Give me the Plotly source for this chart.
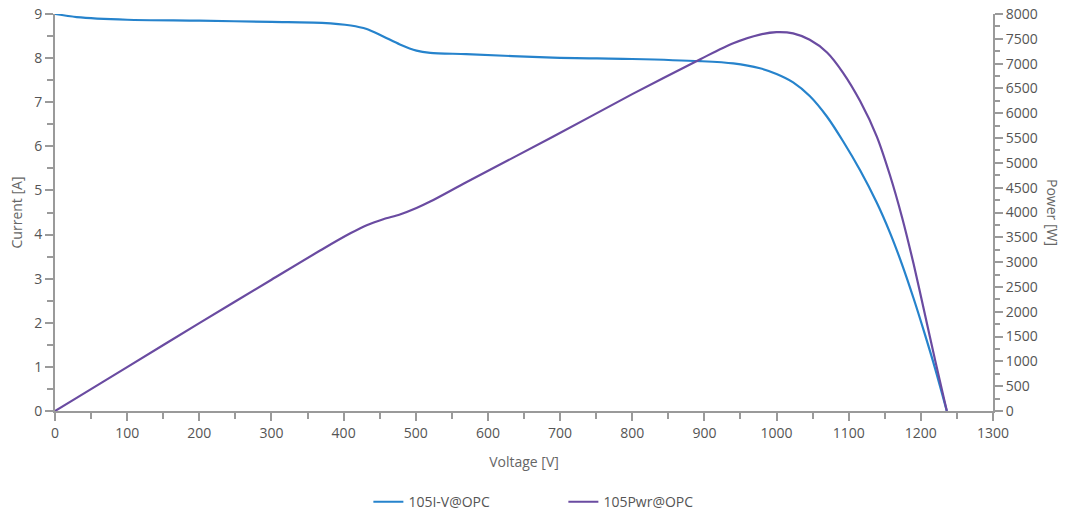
import plotly.graph_objects as go

voltage = [0, 30, 100, 200, 300, 370, 410, 432, 455, 478, 501, 520, 570, 690, 800,
           895, 940, 977, 1000, 1023, 1046, 1070, 1092, 1116, 1139, 1157, 1174, 1190, 1205, 1220, 1236]
current = [9.00, 8.93, 8.87, 8.85, 8.82, 8.80, 8.74, 8.66, 8.49, 8.31, 8.17, 8.12, 8.09, 8.01, 7.98,
           7.93, 7.88, 7.77, 7.64, 7.45, 7.14, 6.67, 6.12, 5.45, 4.72, 4.05, 3.32, 2.55, 1.77, 0.95, 0.0]
power = [0, 265, 885, 1770, 2645, 3255, 3585, 3745, 3865, 3960, 4090, 4220, 4610, 5525, 6385,
         7095, 7410, 7585, 7635, 7610, 7480, 7225, 6820, 6240, 5530, 4760, 3900, 2960, 1990, 1010, 0]

x_ticks = list(range(0, 1301, 100))
current_ticks = list(range(0, 10))
power_ticks = list(range(0, 8001, 500))

BLUE = "#2683cc"
PURPLE = "#6a4ba1"
AXIS = "#9a9a9a"
TXT = "#555555"

fig = go.Figure()
fig.add_trace(go.Scatter(x=voltage, y=current, name="105I-V@OPC", mode="lines",
                         line=dict(color=BLUE, width=2.2, shape="spline", smoothing=0.8)))
fig.add_trace(go.Scatter(x=voltage, y=power, name="105Pwr@OPC", mode="lines", yaxis="y2",
                         line=dict(color=PURPLE, width=2.2, shape="spline", smoothing=0.8)))

axis_common = dict(showline=True, linecolor=AXIS, linewidth=2, ticks="outside", tickcolor=AXIS,
                   ticklen=8, tickwidth=2, showgrid=False, zeroline=False, automargin=False,
                   tickfont=dict(size=14, color=TXT, family="Open Sans"))

fig.update_layout(
    width=1067, height=515,
    margin=dict(l=55, r=74, t=14, b=104),
    plot_bgcolor="white", paper_bgcolor="white",
    font=dict(family="Open Sans", color=TXT),
    xaxis=dict(range=[0, 1300], tickvals=x_ticks, **axis_common,
               minor=dict(dtick=50, ticks="outside", ticklen=6, tickcolor=AXIS, tickwidth=2),
               title=dict(text="Voltage [V]", font=dict(size=14, color="#666666"), standoff=16)),
    yaxis=dict(range=[0, 9], tickvals=current_ticks, **axis_common,
               minor=dict(dtick=0.5, ticks="outside", ticklen=6, tickcolor=AXIS, tickwidth=2),
               title=dict(text="Current [A]", font=dict(size=14, color="#666666"), standoff=8)),
    yaxis2=dict(range=[0, 8000], tickvals=power_ticks, overlaying="y", side="right", **axis_common,
                minor=dict(dtick=250, ticks="outside", ticklen=5, tickcolor=AXIS, tickwidth=2)),
    legend=dict(orientation="h", x=0.528, xanchor="center", xref="container",
                y=0.025, yanchor="middle", yref="container",
                font=dict(size=14, color=TXT), entrywidth=150, entrywidthmode="pixels"),
    showlegend=True,
)
fig.add_annotation(text="Power [W]", xref="paper", yref="paper", x=1.0, y=0.5,
                   xshift=71, textangle=90, showarrow=False,
                   font=dict(size=14, color="#666666"))

fig.write_html("out.html", config={"displayModeBar": False},
               post_script="document.body.style.margin='0';")
